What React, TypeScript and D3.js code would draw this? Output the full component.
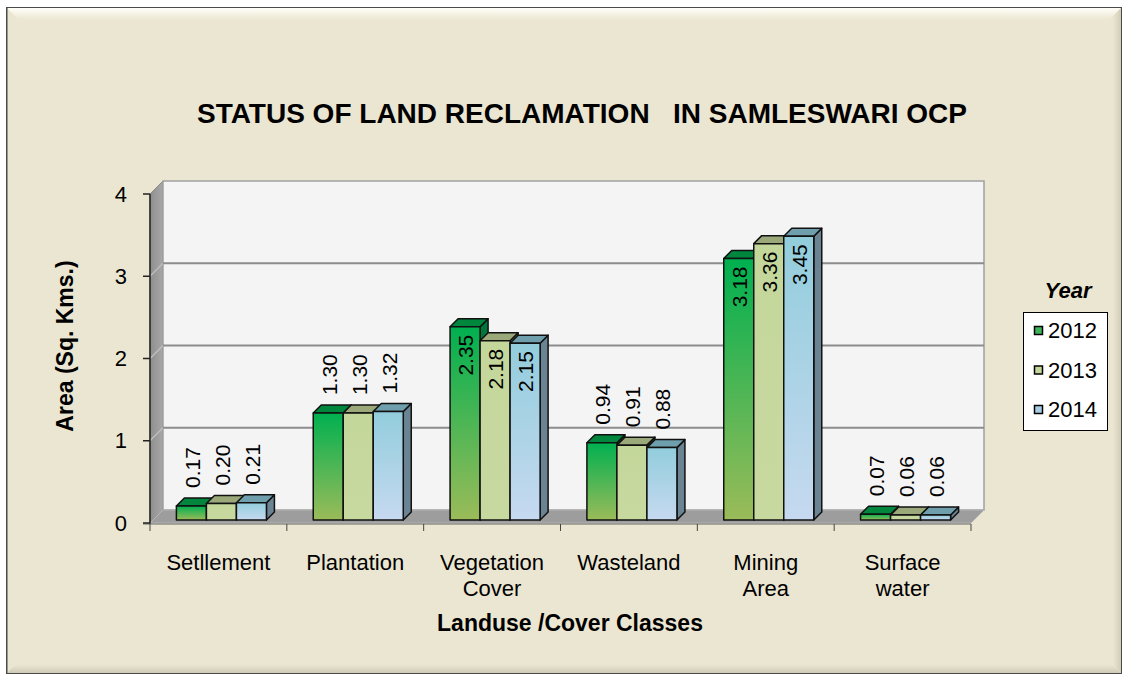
import * as d3 from 'd3'

const categories = ['Setllement', 'Plantation', 'Vegetation Cover', 'Wasteland', 'Mining Area', 'Surface water']
const years = ['2012', '2013', '2014']
const values2012 = [0.17, 1.3, 2.35, 0.94, 3.18, 0.07]
const values2013 = [0.2, 1.3, 2.18, 0.91, 3.36, 0.06]
const values2014 = [0.21, 1.32, 2.15, 0.88, 3.45, 0.06]
const yTicks = [0, 1, 2, 3, 4]
const series = [values2012, values2013, values2014]

const palette = [
  { top: '#00873d', side: '#00773a', g0: '#00b050', g1: '#9bbb59', swatch: '#3cb55a' },
  { top: '#9aa87a', side: '#8d9b6e', g0: '#c4d79b', g1: '#c8d99f', swatch: '#c4d79b' },
  { top: '#6f9fad', side: '#6a8494', g0: '#92cddc', g1: '#c6d9f0', swatch: '#a6cde4' },
]

const W = 1126
const H = 679
const wallD = 13 // depth of back wall
const barD = 8 // depth of bars
const inset = 3

export default function App() {
  const x = d3.scaleBand<string>().domain(categories).range([150, 971])
  const xi = d3.scaleBand<string>().domain(years).range([0, x.bandwidth()]).paddingInner(0).paddingOuter(0.78)
  const y = d3.scaleLinear().domain([0, 4]).range([523, 194])
  const x0 = 150
  const x1 = 971
  const y0 = y(0)
  const yTop = y(4)
  const font = 'Arial, "Liberation Sans", sans-serif'

  return (
    <svg width={W} height={H} style={{ position: 'absolute', left: 0, top: 0, background: '#fff' }}>
      <defs>
        {palette.map((p, i) => (
          <linearGradient key={i} id={`g${i}`} x1="0" y1="0" x2="0" y2="1">
            <stop offset="0" stopColor={p.g0} />
            <stop offset="1" stopColor={p.g1} />
          </linearGradient>
        ))}
        <linearGradient id="bevelTop" x1="0" y1="0" x2="0" y2="1">
          <stop offset="0" stopColor="#fffef8" />
          <stop offset="1" stopColor="#ebe6d1" />
        </linearGradient>
        <linearGradient id="bevelBottom" x1="0" y1="0" x2="0" y2="1">
          <stop offset="0" stopColor="#ebe6d1" />
          <stop offset="1" stopColor="#cfcab6" />
        </linearGradient>
        <linearGradient id="bevelRight" x1="0" y1="0" x2="1" y2="0">
          <stop offset="0" stopColor="#ebe6d1" />
          <stop offset="1" stopColor="#d2cdb8" />
        </linearGradient>
        <linearGradient id="wallL" x1="0" y1="0" x2="1" y2="0">
          <stop offset="0" stopColor="#8e8e8e" />
          <stop offset="1" stopColor="#a8a8a8" />
        </linearGradient>
      </defs>

      {/* frame */}
      <rect x={6.5} y={7.5} width={1115} height={666} fill="#ebe6d1" stroke="#4a4a4a" />
      <polygon points="7,8 1121,8 1109,20 19,20" fill="url(#bevelTop)" />
      <polygon points="1121,8 1121,673 1113,665 1113,16" fill="url(#bevelRight)" />
      <polygon points="7,673 1121,673 1113,665 15,665" fill="url(#bevelBottom)" />
      <line x1={7} y1={8} x2={7} y2={673} stroke="#4a4a4a" />

      <text x={582} y={123} textAnchor="middle" fontFamily={font} fontWeight="bold" fontSize={28} fill="#000" style={{ whiteSpace: 'pre' }}>
        {'STATUS OF LAND RECLAMATION   IN SAMLESWARI OCP'}
      </text>

      {/* walls */}
      <polygon points={`${x0},${y0} ${x0},${yTop} ${x0 + wallD},${yTop - wallD} ${x0 + wallD},${y0 - wallD}`} fill="url(#wallL)" stroke="#8a8a8a" />
      <rect x={x0 + wallD} y={yTop - wallD} width={x1 - x0} height={y0 - yTop} fill="#f4f4f4" stroke="#a0a0a0" strokeWidth={1.5} />
      <polygon points={`${x0},${y0} ${x1},${y0} ${x1 + wallD},${y0 - wallD} ${x0 + wallD},${y0 - wallD}`} fill="#9d9d9d" stroke="#b5b5b5" />
      {yTicks.filter((t) => t > 0 && t < 4).map((t) => (
        <g key={t}>
          <line x1={x0} y1={y(t)} x2={x0 + wallD} y2={y(t) - wallD} stroke="#bdbdbd" strokeWidth={1.5} />
          <line x1={x0 + wallD} y1={y(t) - wallD} x2={x1 + wallD} y2={y(t) - wallD} stroke="#8c8c8c" strokeWidth={2} />
        </g>
      ))}

      {/* axes */}
      <line x1={x0} y1={yTop} x2={x0} y2={y0 + 1} stroke="#222" strokeWidth={1.5} />
      <line x1={143} y1={y0 + 1} x2={x1} y2={y0 + 1} stroke="#666" />
      {yTicks.map((t) => (
        <g key={t}>
          <line x1={143} y1={y(t)} x2={x0} y2={y(t)} stroke="#222" strokeWidth={1.5} />
          <text x={127} y={y(t)} dy="0.35em" textAnchor="end" fontFamily={font} fontSize={22} fill="#000">{t}</text>
        </g>
      ))}
      {[...categories.map((c) => x(c)!), x1].map((v, i) => (
        <line key={i} x1={v} y1={y0 + 1} x2={v} y2={y0 + 8} stroke="#444" />
      ))}
      {categories.map((c) => (
        <text key={c} x={x(c)! + x.bandwidth() / 2} y={570} textAnchor="middle" fontFamily={font} fontSize={22} fill="#000">
          {c.split(' ').map((w, k) => (
            <tspan key={k} x={x(c)! + x.bandwidth() / 2} dy={k === 0 ? 0 : 26}>{w}</tspan>
          ))}
        </text>
      ))}
      <text x={570} y={631} textAnchor="middle" fontFamily={font} fontWeight="bold" fontSize={23} fill="#000">Landuse /Cover Classes</text>
      <text transform={`translate(73,346) rotate(-90)`} textAnchor="middle" fontFamily={font} fontWeight="bold" fontSize={23} fill="#000">Area (Sq. Kms.)</text>

      {/* bars */}
      {categories.map((c, ci) => (
        <g key={c}>
          {years.map((yr, si) => {
            const v = series[si][ci]
            const p = palette[si]
            const bx = x(c)! + xi(yr)! + inset
            const bw = xi.bandwidth()
            const bb = y0 - inset
            const bt = y(v) - inset
            return (
              <g key={yr} stroke="#111" strokeWidth={1.5} strokeLinejoin="round">
                <polygon points={`${bx + bw},${bt} ${bx + bw + barD},${bt - barD} ${bx + bw + barD},${bb - barD} ${bx + bw},${bb}`} fill={p.side} />
                <polygon points={`${bx},${bt} ${bx + barD},${bt - barD} ${bx + bw + barD},${bt - barD} ${bx + bw},${bt}`} fill={p.top} />
                <rect x={bx} y={bt} width={bw} height={bb - bt} fill={`url(#g${si})`} />
              </g>
            )
          })}
          {years.map((yr, si) => {
            const v = series[si][ci]
            const cx = x(c)! + xi(yr)! + inset + xi.bandwidth() / 2 + 1
            const bt = y(v) - inset
            const inside = v >= 2
            const ly = inside ? bt + 8 : bt - barD - 10
            return (
              <text key={yr} transform={`translate(${cx},${ly}) rotate(-90)`} textAnchor={inside ? 'end' : 'start'} dy="0.35em" fontFamily={font} fontSize={21} fill="#000">
                {v.toFixed(2)}
              </text>
            )
          })}
        </g>
      ))}

      {/* legend */}
      <text x={1068} y={298} textAnchor="middle" fontFamily={font} fontWeight="bold" fontStyle="italic" fontSize={22} fill="#000">Year</text>
      <rect x={1023.5} y={312.5} width={84} height={118} fill="#fff" stroke="#000" />
      {years.map((yr, i) => (
        <g key={yr} transform={`translate(0,${i * 39.5})`}>
          <rect x={1034.5} y={326.5} width={8} height={8} fill={palette[i].swatch} stroke="#000" strokeWidth={1.5} />
          <text x={1048} y={338} fontFamily={font} fontSize={22} fill="#000">{yr}</text>
        </g>
      ))}
    </svg>
  )
}
